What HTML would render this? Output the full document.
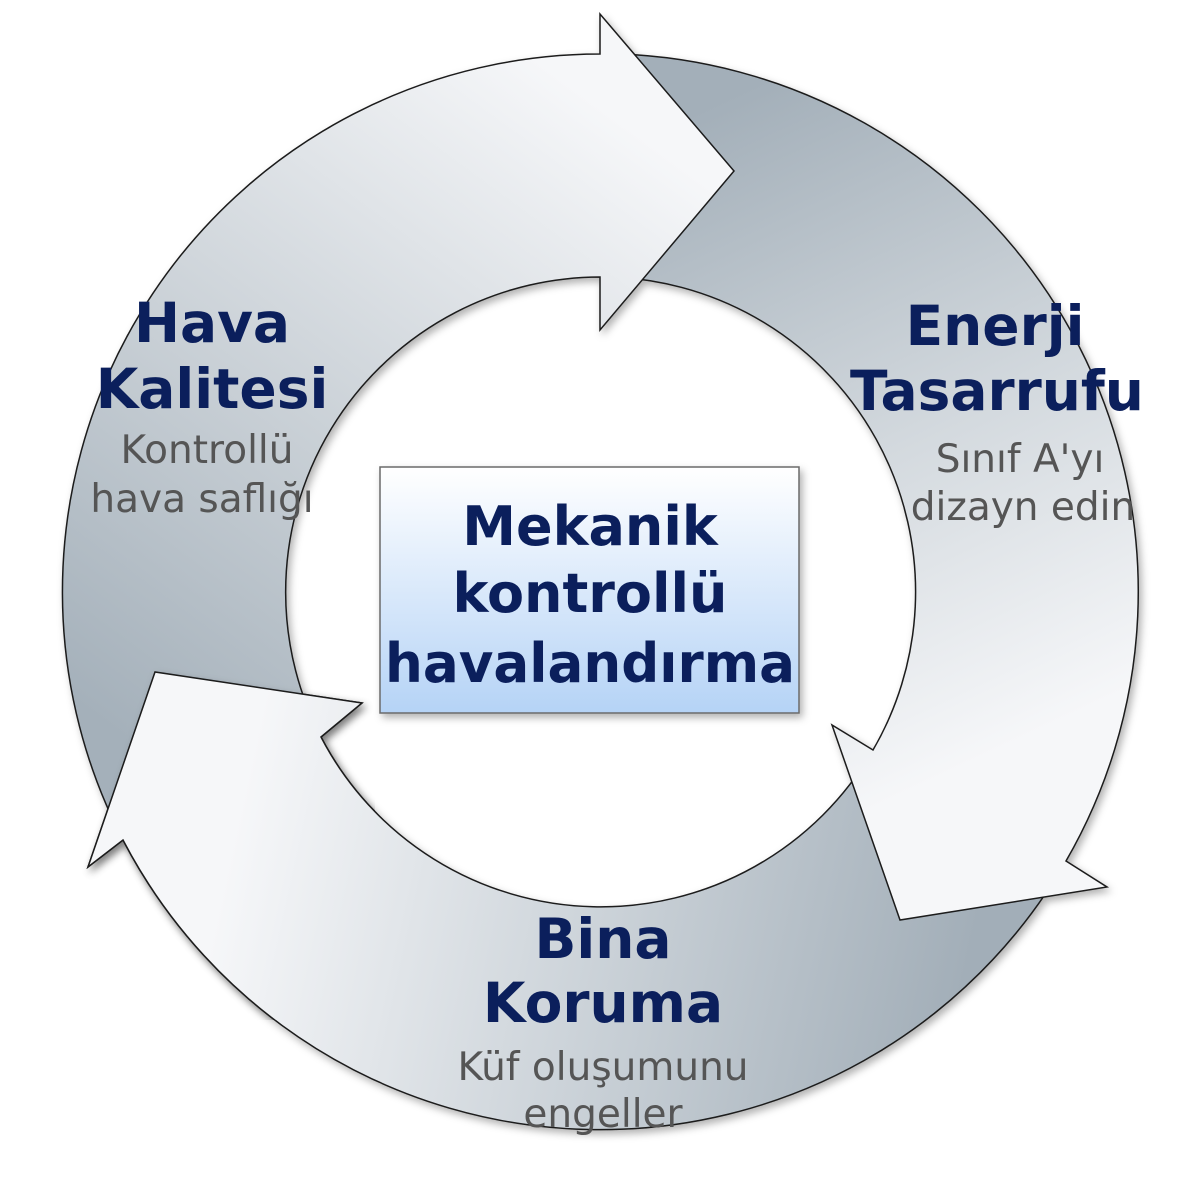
<!DOCTYPE html>
<html><head><meta charset="utf-8"><style>
html,body{margin:0;padding:0;background:#fff;width:1200px;height:1200px;overflow:hidden}
</style></head><body>
<svg width="1200" height="1200" viewBox="0 0 1200 1200" xmlns="http://www.w3.org/2000/svg">
<defs>
<linearGradient id="g1" gradientUnits="userSpaceOnUse" x1="150" y1="760" x2="620" y2="120">
<stop offset="0" stop-color="#a4b0ba"/><stop offset="0.45" stop-color="#c9d0d6"/><stop offset="1" stop-color="#f6f7f9"/></linearGradient>
<linearGradient id="g2" gradientUnits="userSpaceOnUse" x1="680" y1="120" x2="980" y2="760">
<stop offset="0" stop-color="#a3afb9"/><stop offset="0.55" stop-color="#d3d9de"/><stop offset="1" stop-color="#f6f7f9"/></linearGradient>
<linearGradient id="g3" gradientUnits="userSpaceOnUse" x1="980" y1="920" x2="250" y2="760">
<stop offset="0" stop-color="#a2aeb8"/><stop offset="0.5" stop-color="#ccd3d9"/><stop offset="1" stop-color="#f6f7f9"/></linearGradient>
<linearGradient id="gb" x1="0" y1="0" x2="0" y2="1">
<stop offset="0" stop-color="#ffffff"/><stop offset="1" stop-color="#b5d3f6"/></linearGradient>
<filter id="sh" x="-10%" y="-10%" width="120%" height="120%"><feDropShadow dx="3" dy="4" stdDeviation="4" flood-color="#000" flood-opacity="0.3"/></filter>
<clipPath id="cl"><rect x="0" y="640" width="375" height="380"/></clipPath>
<path id="a3" d="M1066,861 A538,538 0 0 1 123,840 L88,867 L155,672 L362,703 L321,737 A315,315 0 0 0 873,750 Z"/>
</defs>
<g stroke="#1a1a1a" stroke-width="1.5" stroke-linejoin="miter" filter="url(#sh)">
<use href="#a3" fill="url(#g3)"/>
<path d="M619,54 A538,538 0 0 1 1066,861 L1107,887 L900,920 L832,725 L873,750 A315,315 0 0 0 611,277 Z" fill="url(#g2)"/>
<path d="M123,840 A538,538 0 0 1 600,54 L600,14 L734,171 L600,330 L600,277 A315,315 0 0 0 321,737 Z" fill="url(#g1)"/>
</g>
<g clip-path="url(#cl)" filter="url(#sh)">
<use href="#a3" fill="url(#g3)" stroke="#1a1a1a" stroke-width="1.5"/>
</g>
<rect x="380" y="467" width="419" height="246" fill="url(#gb)" stroke="#6b6b6b" stroke-width="1.5" filter="url(#sh)"/>
<g font-family="'DejaVu Sans','Liberation Sans',sans-serif" text-anchor="middle">
<g fill="#0b1f5c" font-weight="bold" font-size="54">
<text x="590" y="545">Mekanik</text>
<text x="590" y="612">kontrollü</text>
<text x="590" y="682" textLength="410" lengthAdjust="spacingAndGlyphs">havalandırma</text>
</g>
<g fill="#0b1f5c" font-weight="bold" font-size="55">
<text x="212" y="342">Hava</text>
<text x="212" y="408">Kalitesi</text>
<text x="995" y="345">Enerji</text>
<text x="997" y="410">Tasarrufu</text>
<text x="603" y="958">Bina</text>
<text x="603" y="1022">Koruma</text>
</g>
<g fill="#555" font-size="39">
<text x="207" y="463">Kontrollü</text>
<text x="202" y="512">hava saflığı</text>
<text x="1020" y="472">Sınıf A'yı</text>
<text x="1023" y="520">dizayn edin</text>
<text x="603" y="1080">Küf oluşumunu</text>
<text x="603" y="1127">engeller</text>
</g>
</g>
</svg>
</body></html>
